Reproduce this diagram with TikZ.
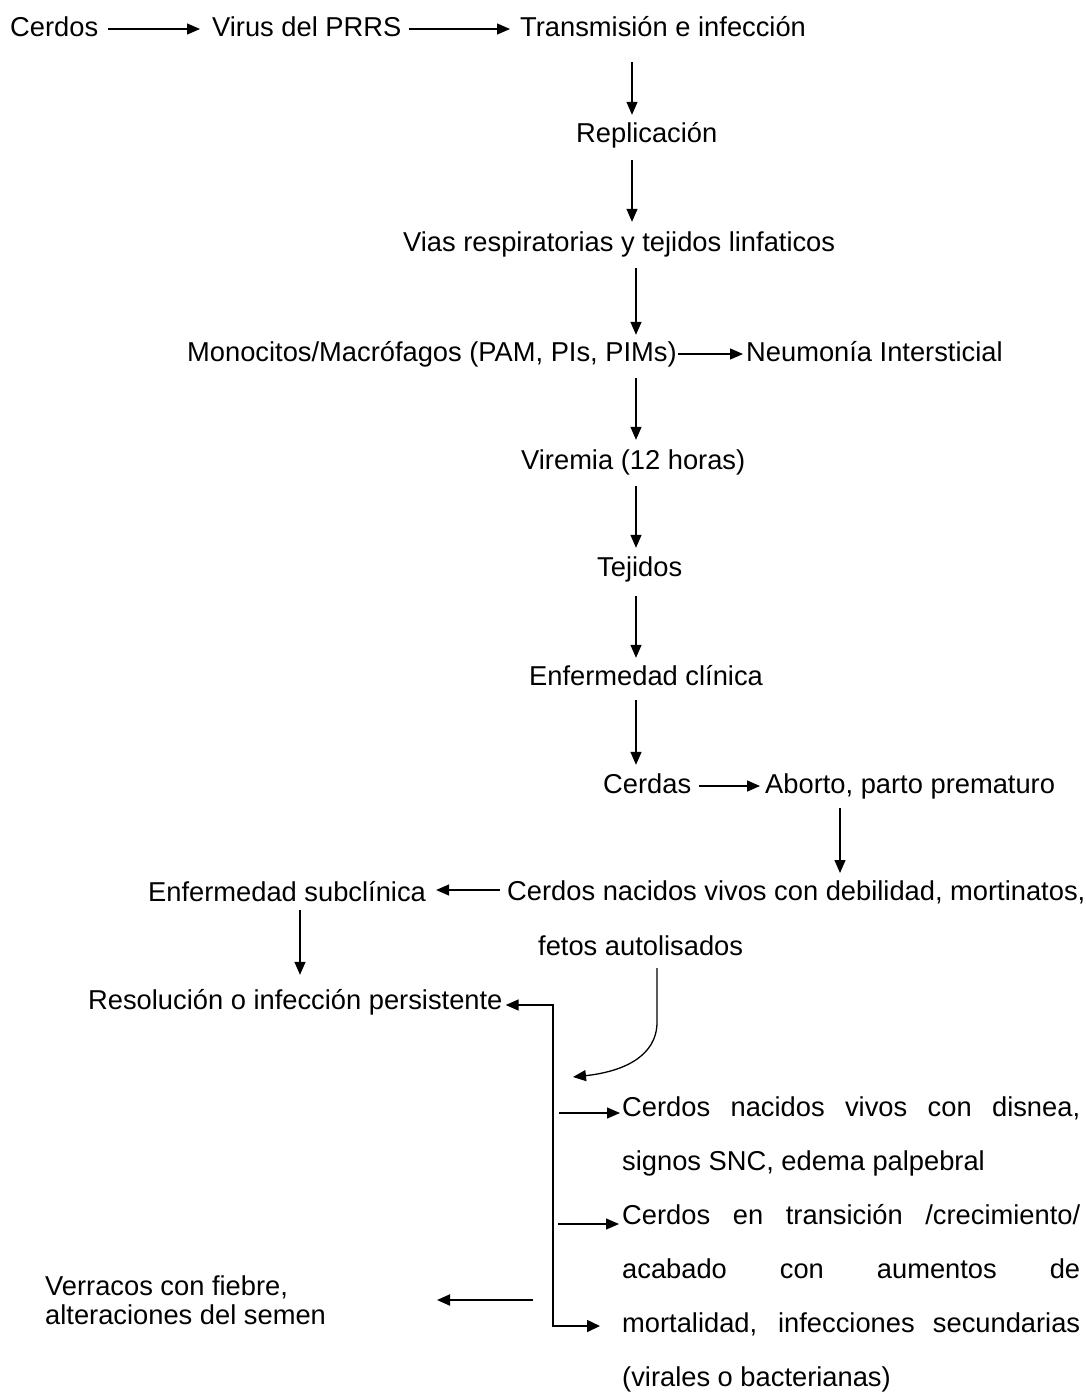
\documentclass[tikz,border=0pt]{standalone}
\usepackage{fontspec}
\setmainfont{Liberation Sans}
\usetikzlibrary{arrows.meta,calc}
\begin{document}
\begin{tikzpicture}[x=1pt,y=-1pt,
  txt/.style={inner sep=0pt,text height=20pt,text depth=6pt,anchor=base west,font=\fontsize{27.3}{29}\selectfont},
  ml/.style={inner sep=0pt,align=left,font=\fontsize{27.3}{29}\selectfont},
  jl/.style={inner sep=0pt,align=left,font=\fontsize{27.3}{54}\selectfont,anchor=north west},
  arr/.style={line width=1.3pt,-{Triangle[length=13pt,width=11pt]}},
  barr/.style={line width=1.6pt,{Triangle[length=13pt,width=11pt]}-{Triangle[length=13pt,width=12pt]}}]
\useasboundingbox[fill=white] (0,0) rectangle (1086,1393);

% nodes
\node[txt] (cer) at (10,36) {Cerdos};
\node[txt] (vir) at (212,36) {Virus del PRRS};
\node[txt] (tra) at (520,36) {Transmisión e infección};
\node[txt] (rep) at (576,142) {Replicación};
\node[txt] (via) at (403,251) {Vias respiratorias y tejidos linfaticos};
\node[txt] (mono) at (187,361) {Monocitos/Macrófagos (PAM, PIs, PIMs)};
\node[txt] (neu) at (746,361) {Neumonía Intersticial};
\node[txt] (vire) at (521,469) {Viremia (12 horas)};
\node[txt] (tej) at (597,576) {Tejidos};
\node[txt] (enf) at (529,685) {Enfermedad clínica};
\node[txt] (cerdas) at (603,793) {Cerdas};
\node[txt] (abo) at (765,793) {Aborto, parto prematuro};
\node[ml,anchor=north west] (cnv) at (507,881) {Cerdos nacidos vivos con debilidad, mortinatos,\\[26pt]\hspace*{31pt}fetos autolisados};
\node[txt] (sub) at (148,901) {Enfermedad subclínica};
\node[txt] (res) at (88,1009) {Resolución o infección persistente};
\node[jl] (dis) at (622,1097) {\makebox[458pt][s]{Cerdos nacidos vivos con disnea,}\\signos SNC, edema palpebral};
\node[jl] (trn) at (622,1204) {\makebox[458pt][s]{Cerdos en transición /crecimiento/}\\\makebox[458pt][s]{acabado con aumentos de}\\\makebox[458pt][s]{mortalidad, infecciones secundarias}\\(virales o bacterianas)};
\node[ml,anchor=west] (ver) at (45,1300) {Verracos con fiebre,\\alteraciones del semen};

% helper coordinates
\coordinate (vxa) at (632,0);
\coordinate (vxb) at (636,0);
\coordinate (vxc) at (840,0);
\coordinate (vxd) at (300,0);
\coordinate (brx) at (553,0);
\coordinate (rtop) at ([xshift=3pt,yshift=-3pt]res.east);
\coordinate (s1) at (559,1113);
\coordinate (s2) at (558,1224);
\coordinate (s3) at (533,1300);
\coordinate (t3) at (437,1300);
\coordinate (bend) at (600,1326);
\coordinate (c1) at (657,968);
\coordinate (c2) at (573,1077);

% horizontal arrows
\draw[arr] ([xshift=10pt]cer.east) -- ([xshift=-12pt]vir.west);
\draw[arr] ([xshift=7pt]vir.east) -- ([xshift=-10pt]tra.west);
\draw[arr] ([xshift=1pt]mono.east) -- ([xshift=-3pt]neu.west);
\draw[arr] ([xshift=8pt]cerdas.east) -- ([xshift=-5pt]abo.west);
\draw[arr] ($(cnv.north west)+(-7,9)$) -- ($(sub.east |- cnv.north west)+(10,9)$);

% vertical arrows
\draw[arr,shorten <=20pt,shorten >=7pt] (vxa |- tra.south) -- (vxa |- rep.north);
\draw[arr,shorten <=12pt,shorten >=9pt] (vxa |- rep.south) -- (vxa |- via.north);
\draw[arr,shorten <=11pt,shorten >=6pt] (vxb |- via.south) -- (vxb |- mono.north);
\draw[arr,shorten <=11pt,shorten >=9pt] (vxb |- mono.south) -- (vxb |- vire.north);
\draw[arr,shorten <=11pt,shorten >=8pt] (vxb |- vire.south) -- (vxb |- tej.north);
\draw[arr,shorten <=14pt,shorten >=7pt] (vxb |- tej.south) -- (vxb |- enf.north);
\draw[arr,shorten <=9pt,shorten >=8pt] (vxb |- enf.south) -- (vxb |- cerdas.north);
\draw[arr,shorten <=9pt,shorten >=8pt] (vxc |- abo.south) -- (vxc |- cnv.north);
\draw[arr,shorten <=3pt,shorten >=14pt] (vxd |- sub.south) -- (vxd |- res.north);

% bracket
\draw[barr] (rtop) -- (brx |- rtop) -- (brx |- bend) -- (bend);

% curved arrow
\draw[arr] (c1) -- (657,1022) .. controls (657,1058) and (620,1072) .. (c2);

% side arrows
\draw[arr,shorten >=2pt] (s1) -- (s1 -| dis.west);
\draw[arr,shorten >=3pt] (s2) -- (s2 -| trn.west);
\draw[arr,line width=1.9pt] (s3) -- (t3);
\end{tikzpicture}
\end{document}
